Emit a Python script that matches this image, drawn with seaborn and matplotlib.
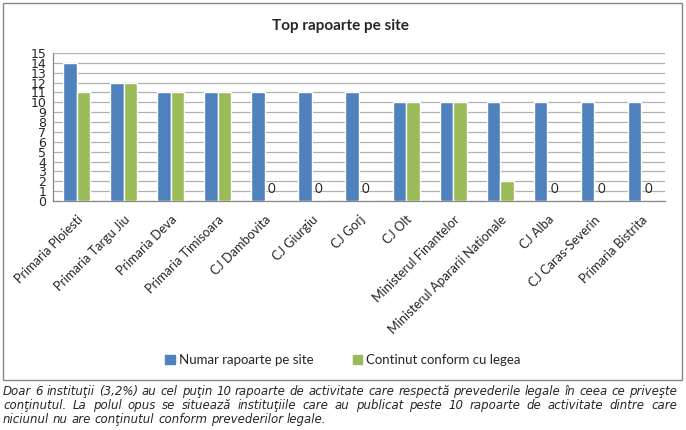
import pandas as pd
import matplotlib.pyplot as plt
import seaborn as sns
from matplotlib.patches import Rectangle
from matplotlib.ticker import FixedLocator

# ---- data ----
institutii = ["Primaria Ploiesti", "Primaria Targu Jiu", "Primaria Deva", "Primaria Timisoara",
              "CJ Dambovita", "CJ Giurgiu", "CJ Gorj", "CJ Olt", "Ministerul Finantelor",
              "Ministerul Apararii Nationale", "CJ Alba", "CJ Caras-Severin", "Primaria Bistrita"]
numar_rapoarte = [14, 12, 11, 11, 11, 11, 11, 10, 10, 10, 10, 10, 10]
continut_conform = [11, 12, 11, 11, 0, 0, 0, 10, 10, 2, 0, 0, 0]
serii = ["Numar rapoarte pe site", "Continut conform cu legea"]
y_ticks = list(range(0, 16))

caption = [
    "Doar 6 instituţii (3,2%) au cel puţin 10 rapoarte de activitate care respectă prevederile legale în ceea ce priveşte",
    "conţinutul. La polul opus se situează instituţiile care au publicat peste 10 rapoarte de activitate dintre care",
    "niciunul nu are conţinutul conform prevederilor legale.",
]

BLUE = "#4F81BD"
GREEN = "#9BBB59"

df = pd.DataFrame({
    "inst": institutii * 2,
    "val": numar_rapoarte + continut_conform,
    "serie": [serii[0]] * len(institutii) + [serii[1]] * len(institutii),
})

sns.set_style("white")
plt.rcParams["font.family"] = ["Lato", "DejaVu Sans"]

fig = plt.figure(figsize=(6.86, 4.30), dpi=100)
W, H = 686, 430
ax = fig.add_axes([53 / W, 1 - 201 / H, 612 / W, 148 / H])

sns.barplot(data=df, x="inst", y="val", hue="serie", palette=[BLUE, GREEN],
            width=0.575, saturation=1, ax=ax, legend=False, zorder=3)

# ---- axes styling (excel look) ----
ax.set_ylim(0, 15)
ax.set_xlim(-0.5, len(institutii) - 0.5)
ax.yaxis.set_major_locator(FixedLocator(y_ticks))
ax.set_yticklabels([str(t) for t in y_ticks], fontsize=9, family="DejaVu Sans")
ax.grid(axis="y", color="#B0B0B0", lw=0.9, zorder=0)
ax.set_axisbelow(True)
for s in ["top", "right"]:
    ax.spines[s].set_visible(False)
for s in ["left", "bottom"]:
    ax.spines[s].set_color("#868686")
    ax.spines[s].set_linewidth(0.9)
ax.tick_params(axis="y", length=4, color="#868686", pad=1)
ax.set_xlabel("")
ax.set_ylabel("")

# tick marks between categories, like excel
ax.xaxis.set_minor_locator(FixedLocator([i - 0.5 for i in range(len(institutii) + 1)]))
ax.tick_params(axis="x", which="minor", length=5, color="#868686")
ax.tick_params(axis="x", which="major", length=0, pad=9)
ax.set_xticks(range(len(institutii)))
ax.set_xticklabels(institutii, rotation=45, ha="right", rotation_mode="anchor", fontsize=9.2)

# zero labels on the green series
green_bars = ax.containers[1]
for bar, v in zip(green_bars, continut_conform):
    if v == 0:
        ax.annotate("0", (bar.get_x() + bar.get_width() / 2, 0), xytext=(0, 4),
                    textcoords="offset points", ha="center", va="bottom", fontsize=9.5)

# ---- title, legend, frame ----
fig.text(340 / W, 1 - 26 / H, "Top rapoarte pe site", ha="center", va="center",
         fontsize=11, fontweight="bold")

handles = [Rectangle((0, 0), 1, 1, color=BLUE), Rectangle((0, 0), 1, 1, color=GREEN)]
fig.legend(handles, serii, loc="center", bbox_to_anchor=(343 / W, 1 - 360 / H), ncol=2,
           frameon=False, fontsize=9.5, handlelength=0.7, handleheight=0.7,
           handletextpad=0.3, columnspacing=3.0)

fig.add_artist(Rectangle((3 / W, 1 - 380 / H), 679 / W, 377 / H, transform=fig.transFigure,
                         fill=False, edgecolor="#878787", lw=1))

# ---- justified caption below the chart ----
renderer = fig.canvas.get_renderer()
X0, X1 = 3, 677
CAP = dict(style="italic", family="DejaVu Sans")

# pick the caption size so the first line fills the width with normal spacing
probe = fig.text(0, 0, caption[0], fontsize=10, **CAP)
cap_size = 10 * (X1 - X0 - 4) / probe.get_window_extent(renderer).width
probe.remove()


def text_w(s):
    t = fig.text(0, 0, s, fontsize=cap_size, **CAP)
    w = t.get_window_extent(renderer).width
    t.remove()
    return w


space_w = text_w("a a") - text_w("aa")


def put_line(text, y, justify):
    words = text.split(" ")
    objs = [fig.text(0, 1 - y / H, w, fontsize=cap_size, va="baseline", ha="left", **CAP)
            for w in words]
    widths = [o.get_window_extent(renderer).width for o in objs]
    if justify and len(words) > 1:
        gap = (X1 - X0 - sum(widths)) / (len(words) - 1)
    else:
        gap = space_w
    x = X0
    for o, w in zip(objs, widths):
        o.set_x(x / W)
        x += w + gap


for i, line in enumerate(caption):
    put_line(line, 395 + 14 * i, justify=i < len(caption) - 1)

fig.savefig("out.png", dpi=100)
